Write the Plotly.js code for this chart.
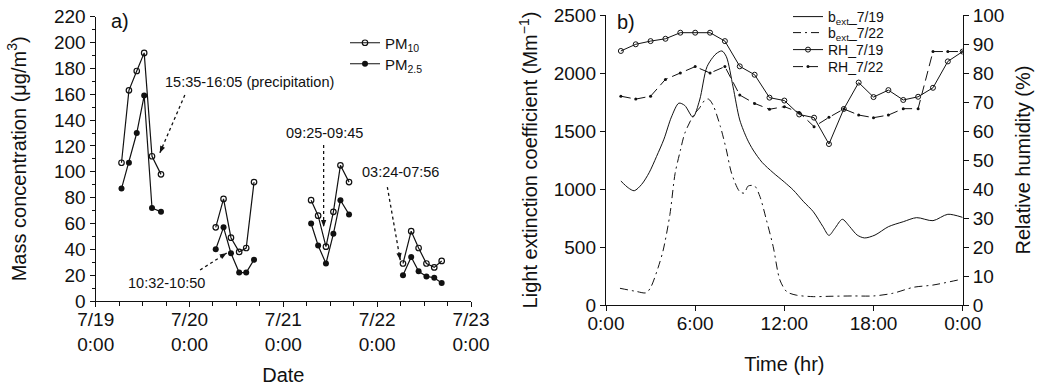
<!DOCTYPE html>
<html><head><meta charset="utf-8">
<script src="https://cdn.plot.ly/plotly-3.0.1.min.js"></script>
<style>html,body{margin:0;padding:0;background:#fff}#chart{width:1043px;height:386px}</style>
</head><body><div id="chart"></div>
<script>
// ---- Panel a) : hours since 7/19 0:00 (null = gap between sampling days)
const pmHours = [6.6, 8.5, 10.5, 12.4, 14.4, 16.7, null,
                 30.7, 32.7, 34.6, 36.7, 38.5, 40.5, null,
                 55.1, 56.9, 58.9, 60.8, 62.6, 64.8, null,
                 78.6, 80.7, 82.6, 84.6, 86.6, 88.5];
const pm10 = [107, 163, 178, 192, 112, 98, null,
              57, 79, 49, 38, 41, 92, null,
              78, 66, 42, 69, 105, 92, null,
              29, 54, 41, 29, 26, 31];
const pm25 = [87, 107, 130, 159, 72, 69, null,
              40, 57, 37, 22, 22, 32, null,
              60, 43, 29, 52, 78, 67, null,
              20, 34, 23, 19, 18, 14];
const dayTickVals = [0, 24, 48, 72, 96];
const dayTickText = ['7/19<br>0:00', '7/20<br>0:00', '7/21<br>0:00', '7/22<br>0:00', '7/23<br>0:00'];

// ---- Panel b) : hour of day
const rhHours = [1,2,3,4,5,6,7,8,9,10,11,12,13,14,15,16,17,18,19,20,21,22,23,24];
const rh0719 = [87.6, 89.9, 91.0, 91.8, 93.9, 93.9, 93.9, 91.0, 82.3, 79.4, 71.5, 70.5,
                65.7, 64.6, 55.5, 67.6, 76.7, 71.7, 74.1, 70.7, 71.8, 74.9, 84.0, 87.4];
const rh0722 = [72, 71, 72, 77.8, 80, 82.2, 80, 82.2, 72.4, 69.5, 67.5, 68.4,
                66.4, 61.5, 64.7, 67.6, 65.5, 64.6, 65.5, 67.7, 67.7, 87.4, 87.4, 87.4];
const bext0719Hours = [1, 1.5, 1.9, 2.4, 2.9, 3.4, 3.9, 4.4, 4.9, 5.3, 5.85, 6.3, 6.8, 7.4, 7.8, 8.1,
                       8.55, 9.0, 9.5, 9.9, 10.5, 11.25, 12, 12.6, 13.3, 13.95, 14.6, 15.0, 15.4, 15.9,
                       16.4, 16.9, 17.4, 18.1, 19, 20, 20.9, 22, 23, 24];
const bext0719 = [1069, 1010, 985, 1040, 1140, 1280, 1430, 1620, 1740, 1720, 1620, 1767, 2055, 2165, 2190, 2140,
                  1880, 1595, 1430, 1336, 1230, 1140, 1060, 991, 890, 804, 675, 600, 661, 739,
                  675, 603, 578, 603, 675, 718, 753, 727, 782, 755];
const bext0722Hours = [0.94, 2, 2.7, 3.0, 3.5, 3.85, 4.3, 4.65, 5.0, 5.3, 5.9, 6.3, 6.66, 6.9, 7.2, 7.7,
                       8.1, 8.45, 9.0, 9.3, 9.57, 10.0, 10.36, 10.8, 11.25, 11.7, 12.16, 12.8, 13.95, 15,
                       16.6, 18, 19.3, 20.7, 22, 23.7];
const bext0722 = [144, 118, 105, 150, 320, 474, 780, 1135, 1330, 1480, 1638, 1700, 1767, 1775, 1724, 1537,
                  1336, 1135, 977, 965, 1026, 1026, 934, 730, 503, 216, 115, 85, 72, 75,
                  78, 78, 101, 153, 172, 216];
const hourTickVals = [0, 6, 12, 18, 24];
const hourTickText = ['0:00', '6:00', '12:00', '18:00', '0:00'];

const FONT = 'Liberation Sans, Arial, Helvetica, sans-serif';
const INK = '#111';

const traces = [
  {x: pmHours, y: pm10, xaxis: 'x', yaxis: 'y', mode: 'lines+markers', name: 'PM<sub>10</sub>',
   line: {color: INK, width: 1.2}, marker: {symbol: 'circle-open', size: 5.5, color: INK, line: {width: 1.2}},
   connectgaps: false, legend: 'legend'},
  {x: pmHours, y: pm25, xaxis: 'x', yaxis: 'y', mode: 'lines+markers', name: 'PM<sub>2.5</sub>',
   line: {color: INK, width: 1.2}, marker: {symbol: 'circle', size: 6, color: INK},
   connectgaps: false, legend: 'legend2'},

  {x: bext0719Hours, y: bext0719, xaxis: 'x2', yaxis: 'y2', mode: 'lines', name: 'b<sub>ext</sub>_7/19',
   line: {color: INK, width: 1, shape: 'spline', smoothing: 0.8}, legend: 'legend3'},
  {x: bext0722Hours, y: bext0722, xaxis: 'x2', yaxis: 'y2', mode: 'lines', name: 'b<sub>ext</sub>_7/22',
   line: {color: INK, width: 1, shape: 'spline', smoothing: 0.8, dash: '8px,4px,2px,4px'}, legend: 'legend4'},
  {x: rhHours, y: rh0719, xaxis: 'x2', yaxis: 'y3', mode: 'lines+markers', name: 'RH_7/19',
   line: {color: INK, width: 1}, marker: {symbol: 'circle-open', size: 5, color: INK, line: {width: 1}},
   legend: 'legend5'},
  {x: rhHours, y: rh0722, xaxis: 'x2', yaxis: 'y3', mode: 'lines+markers', name: 'RH_7/22',
   line: {color: INK, width: 1, dash: '10px,5px'}, marker: {symbol: 'circle', size: 3, color: INK},
   legend: 'legend6'}
];

const W = 1043, H = 386;
const px = v => v / W, py = v => 1 - v / H;

const axCommon = {
  showline: true, linecolor: INK, linewidth: 1.2, mirror: false, showgrid: false, zeroline: false,
  ticks: 'outside', ticklen: 5, tickwidth: 1, tickcolor: INK,
  tickfont: {family: FONT, size: 19, color: INK}, automargin: false
};

function legendAt(xPx, yPx, size) {
  return {x: px(xPx), y: py(yPx), xanchor: 'left', yanchor: 'middle', bgcolor: 'rgba(0,0,0,0)',
          font: {family: FONT, size: size, color: INK}, tracegroupgap: 0, borderwidth: 0};
}

// Arrowhead (small filled triangle) in pixel units anchored at the tip (data coords)
const PXH = 94 / 24, PXV = 1.2924; // approx px per hour / per µg/m3 on panel a
function arrowHead(x0, y0, x1, y1) {
  let dx = (x1 - x0) * PXH, dy = (y1 - y0) * PXV;
  const n = Math.hypot(dx, dy); dx /= n; dy /= n;
  const L = 7, Wd = 2.6;
  const bx = -L * dx, by = -L * dy, qx = -dy, qy = dx;
  const p = `M0,0 L${(bx + Wd*qx).toFixed(2)},${(by + Wd*qy).toFixed(2)} L${(bx - Wd*qx).toFixed(2)},${(by - Wd*qy).toFixed(2)} Z`;
  return {type: 'path', xref: 'x', yref: 'y', xsizemode: 'pixel', ysizemode: 'pixel',
          xanchor: x1, yanchor: y1, path: p, fillcolor: INK, line: {width: 0}};
}
const arrows = [
  [22.8, 159.4, 16.4, 114.5],
  [58.3, 120.7, 58.3, 57.3],
  [74.6, 88.2, 77.9, 31.7],
  [26.7, 24.0, 33.5, 37.1]
];
const shapes = [];
arrows.forEach(a => {
  shapes.push({type: 'line', xref: 'x', yref: 'y', x0: a[0], y0: a[1], x1: a[2], y1: a[3],
               line: {color: INK, width: 1.3, dash: 'dot'}});
  shapes.push(arrowHead(a[0], a[1], a[2], a[3]));
});

const layout = {
  width: W, height: H, margin: {l: 0, r: 0, t: 0, b: 0, pad: 0},
  paper_bgcolor: '#fff', plot_bgcolor: 'rgba(0,0,0,0)',
  font: {family: FONT, color: INK},
  showlegend: true,
  xaxis: Object.assign({}, axCommon, {
    domain: [px(95.7), px(471)], range: [0, 96], tickmode: 'array', tickvals: dayTickVals, ticktext: dayTickText,
    ticklabelstandoff: -4,
    minor: {tickvals: [6,12,18,30,36,42,54,60,66,78,84,90], ticklen: 4, tickcolor: INK, ticks: 'outside'},
    title: {text: 'Date', font: {family: FONT, size: 20, color: INK}, standoff: 26}
  }),
  yaxis: Object.assign({}, axCommon, {
    domain: [py(301), py(16.7)], range: [0, 220], tickmode: 'linear', tick0: 0, dtick: 20, anchor: 'x',
    minor: {dtick: 10, ticklen: 3, tickcolor: INK, ticks: 'outside'},
    title: {text: 'Mass concentration (μg/m<sup>3</sup>)', font: {family: FONT, size: 20, color: INK}, standoff: 22}
  }),
  xaxis2: Object.assign({}, axCommon, {
    domain: [px(606), px(962.7)], range: [0, 24], tickmode: 'array', tickvals: hourTickVals, ticktext: hourTickText,
    anchor: 'y2', ticklabelstandoff: -4,
    title: {text: 'Time (hr)', font: {family: FONT, size: 20, color: INK}, standoff: 24}
  }),
  yaxis2: Object.assign({}, axCommon, {
    domain: [py(305), py(15)], range: [0, 2500], tickmode: 'linear', tick0: 0, dtick: 500, anchor: 'x2',
    title: {text: 'Light extinction coefficient (Mm<sup>−1</sup>)', font: {family: FONT, size: 20, color: INK}, standoff: 10}
  }),
  yaxis3: Object.assign({}, axCommon, {
    range: [0, 100], tickmode: 'linear', tick0: 0, dtick: 10, anchor: 'x2', overlaying: 'y2', side: 'right',
    title: {text: 'Relative humidity (%)', font: {family: FONT, size: 20, color: INK}, standoff: 12}
  }),
  legend: legendAt(345, 43, 15),
  legend2: legendAt(345, 64, 15),
  legend3: legendAt(788, 17, 14),
  legend4: legendAt(788, 33, 14),
  legend5: legendAt(788, 50, 14),
  legend6: legendAt(788, 67, 14),
  shapes: shapes,
  annotations: [
    {text: 'a)', xref: 'paper', yref: 'paper', x: px(120), y: py(21), xanchor: 'center', yanchor: 'middle', showarrow: false, font: {family: FONT, size: 20, color: INK}},
    {text: 'b)', xref: 'paper', yref: 'paper', x: px(626), y: py(22), xanchor: 'center', yanchor: 'middle', showarrow: false, font: {family: FONT, size: 20, color: INK}},
    {text: '15:35-16:05 (precipitation)', xref: 'x', yref: 'y', x: 17.2, y: 169.5, xanchor: 'left', showarrow: false, font: {family: FONT, size: 14.5, color: INK}},
    {text: '09:25-09:45', xref: 'x', yref: 'y', x: 58.5, y: 130, showarrow: false, font: {family: FONT, size: 14.5, color: INK}},
    {text: '03:24-07:56', xref: 'x', yref: 'y', x: 67.5, y: 99.8, xanchor: 'left', showarrow: false, font: {family: FONT, size: 14.5, color: INK}},
    {text: '10:32-10:50', xref: 'x', yref: 'y', x: 7.7, y: 13.9, xanchor: 'left', showarrow: false, font: {family: FONT, size: 14.5, color: INK}}
  ]
};

Plotly.newPlot('chart', traces, layout, {staticPlot: true, displayModeBar: false});
</script></body></html>
